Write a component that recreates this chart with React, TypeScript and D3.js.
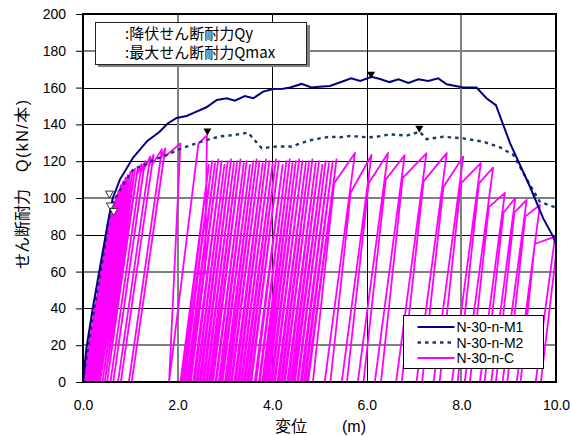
import React, { useEffect, useRef } from "react";
import * as d3 from "d3";

// monotonic loading, N-30-n-M1
const m1Disp = [0, 0.07, 0.2, 0.33, 0.46, 0.55, 0.63, 0.78, 1.06, 1.36, 1.62, 1.79, 1.98, 2.19, 2.4, 2.61, 2.83, 3.04, 3.21, 3.42, 3.6, 3.81, 4.02, 4.23, 4.38, 4.62, 4.83, 5.0, 5.22, 5.47, 5.67, 5.86, 6.1, 6.28, 6.48, 6.67, 6.88, 7.09, 7.3, 7.51, 7.69, 8.04, 8.32, 8.53, 8.73, 9.03, 9.45, 9.73, 9.94, 10.0];
const m1Load = [0, 18, 39, 58, 77, 90, 100, 110, 122, 131, 136, 140.5, 143.5, 144.6, 146.9, 149.3, 153.3, 154.2, 152.9, 155.4, 154.2, 157.8, 159.2, 159.4, 160.1, 162, 160.1, 160.5, 160.9, 163.2, 165, 163.6, 165.9, 164.7, 163, 164.5, 162.5, 164.5, 163.6, 165, 161.8, 160, 160, 154.2, 150.5, 129.7, 106.1, 88.9, 79, 75];

// monotonic loading, N-30-n-M2
const m2Disp = [0, 0.08, 0.2, 0.33, 0.45, 0.54, 0.65, 0.82, 1.07, 1.27, 1.49, 1.77, 2.05, 2.33, 2.61, 2.9, 3.18, 3.49, 3.78, 4.09, 4.41, 4.59, 4.83, 5.01, 5.22, 5.43, 5.64, 5.86, 6.03, 6.21, 6.49, 6.84, 7.12, 7.26, 7.62, 8.04, 8.46, 8.82, 9.1, 9.45, 9.66, 9.94, 10.0];
const m2Load = [0, 14, 34, 53, 72, 88, 98, 106, 116, 117.5, 120.7, 123.4, 126.6, 129.2, 131.5, 133.5, 134.2, 135.5, 127, 128, 128, 129.7, 131.5, 132.4, 133.3, 133, 133.7, 133.3, 133, 133.3, 134.6, 133.9, 136, 132, 133.3, 132.4, 130.6, 127.5, 123.4, 107, 98, 95.3, 95];

// cyclic loading N-30-n-C : first cycles along the skeleton  [disp, load]
const cycEarly: [number, number][] = [
  [0, 0], [0.1, 16], [0, 0], [0.15, 24], [0, 0], [0.2, 32], [0, 0], [0.25, 40],
  [0.01, 0], [0.3, 47], [0.01, 0], [0.35, 55], [0.02, 0], [0.4, 63], [0.03, 0], [0.45, 71],
  [0.04, 0], [0.5, 79], [0.05, 0], [0.55, 86], [0.06, 0], [0.6, 92], [0.08, 0], [0.65, 97],
  [0.1, 0], [0.7, 101], [0.13, 0], [0.75, 104], [0.16, 0], [0.8, 107], [0.2, 0], [0.85, 109],
  [0.24, 0], [0.9, 111], [0.28, 0], [0.95, 112.5], [0.32, 0], [1.0, 114], [0.36, 0], [1.05, 115],
  [0.41, 0], [1.1, 116], [0.46, 0], [1.16, 117],
];

// unload -> reload to knee -> new peak, up to Qmax
const cycMid: [number, number][] = [
  [0.51, 0], [1.13, 112], [1.24, 118.5],
  [0.58, 0], [1.21, 113], [1.31, 120],
  [0.64, 0], [1.28, 115], [1.42, 122.5],
  [0.74, 0], [1.39, 117], [1.49, 123.5],
  [0.8, 0], [1.46, 118], [1.67, 126.5],
  [0.97, 0], [1.64, 121], [1.74, 127],
  [1.03, 0], [1.71, 122], [2.06, 129.7],
  [1.82, 0], [2.44, 129.5], [2.62, 134],
  [2.58, 59], [2.37, 59],
];

// constant amplitude cycles: load from base, unload back near the same base
const denseBaseX = [2.06, 2.12, 2.19, 2.25, 2.33, 2.4, 2.46, 2.53, 2.6, 2.66, 2.72, 2.8, 2.87, 2.93, 3.0, 3.06, 3.13, 3.2, 3.27, 3.34, 3.4, 3.47, 3.54, 3.63, 3.72, 3.79, 3.84, 3.9, 3.97, 4.04, 4.11, 4.18, 4.25, 4.32, 4.39, 4.45, 4.53, 4.6, 4.67, 4.76];
const denseUnloadX = [2.09, 2.15, 2.22, 2.28, 2.36, 2.42, 2.49, 2.56, 2.62, 2.69, 2.75, 2.82, 2.9, 2.95, 3.03, 3.09, 3.15, 3.23, 3.3, 3.36, 3.43, 3.5, 3.56, 3.66, 3.74, 3.82, 3.87, 3.93, 4.0, 4.06, 4.14, 4.21, 4.27, 4.35, 4.42, 4.48, 4.55, 4.63, 4.7, 4.74];
const densePeakX = [2.66, 2.73, 2.79, 2.86, 2.93, 2.99, 3.06, 3.13, 3.19, 3.26, 3.33, 3.4, 3.46, 3.53, 3.6, 3.67, 3.73, 3.8, 3.87, 3.94, 4.01, 4.08, 4.14, 4.22, 4.3, 4.37, 4.43, 4.5, 4.57, 4.64, 4.71, 4.78, 4.85, 4.92, 4.99, 5.06, 5.13, 5.2, 5.28, 5.36];
const densePeakQ = [118, 120, 119, 121, 120, 118, 120, 121, 119, 120, 121, 119, 120, 118, 120, 121, 120, 119, 121, 120, 119, 121, 120, 118, 120, 121, 119, 120, 121, 120, 119, 120, 121, 119, 120, 118, 120, 119, 120, 121];

// late cycles: unload crossing, reload crossing, knee, peak
const lateUnloadX = [4.78, 5.11, 5.47, 5.81, 6.17, 6.62, 7.05, 7.41, 7.8, 8.07, 8.39, 8.63, 8.87, 9.17, 9.57];
const lateReloadX = [4.86, 5.23, 5.58, 5.93, 6.3, 6.74, 7.17, 7.54, 7.92, 8.18, 8.49, 8.73, 8.97, 9.25, 9.68];
const lateKneeX = [5.31, 5.66, 6.04, 6.4, 6.76, 7.2, 7.62, 7.99, 8.37, 8.58, 8.89, 9.12, 9.35, 9.55, 10.12];
const lateKneeQ = [108, 103, 108, 110, 111, 109, 106, 108, 108, 95, 92, 92, 90, 75, 95];
const latePeakX = [5.75, 6.1, 6.45, 6.8, 7.26, 7.69, 8.04, 8.41, 8.67, 8.92, 9.14, 9.38, 9.66, 9.98];
const latePeakQ = [124.5, 123.4, 124.5, 123.2, 124.3, 124.4, 122.5, 119, 116.5, 102.8, 100, 99, 96.2, 79];

// yield (open) and maximum (filled) shear markers
const qyDisp = [0.56, 0.58, 0.65];
const qyLoad = [102.5, 96, 93];
const qmaxDisp = [2.63, 6.09, 7.11];
const qmaxLoad = [136.5, 167.4, 138];

const xTicks = [0, 2, 4, 6, 8, 10];
const yTicks = [0, 20, 40, 60, 80, 100, 120, 140, 160, 180, 200];
const seriesNames = ["N-30-n-M1", "N-30-n-M2", "N-30-n-C"];
const noteLines = [":降伏せん断耐力Qy", ":最大せん断耐力Qmax"];

const FONT = "'Liberation Sans', Arial, 'Noto Sans CJK JP', sans-serif";
const JFONT = "'Noto Sans CJK JP', 'Liberation Sans', sans-serif";

function cyclicPoints(): [number, number][] {
  const pts: [number, number][] = [...cycEarly, ...cycMid];
  denseBaseX.forEach((b, i) => {
    // the run along Q = 0 between cycles is hidden under the x axis
    pts.push([b, 0], [densePeakX[i], densePeakQ[i]], [denseUnloadX[i], 0]);
  });
  lateUnloadX.forEach((u, i) => {
    pts.push([u, 0], [lateReloadX[i], 0], [lateKneeX[i], lateKneeQ[i]]);
    if (i < latePeakX.length) pts.push([latePeakX[i], latePeakQ[i]]);
  });
  return pts;
}

const App = () => {
  const svgRef = useRef<SVGSVGElement>(null);

  useEffect(() => {
    const w = 570;
    const h = 436;
    const svg = d3.select(svgRef.current).attr("width", w).attr("height", h).style("background", "#fff");
    svg.selectAll("*").remove();

    const xScale = d3.scaleLinear().domain([0, 10]).range([83, 556]);
    const yScale = d3.scaleLinear().domain([0, 200]).range([382, 14]);
    const [x0, x1] = xScale.range();
    const [y0, y1] = yScale.range();

    // grid (Excel rendering gives alternating crisp / soft lines)
    const softRows = [20, 60, 100, 180];
    const softCols = [2, 8];
    const grid = svg.append("g");
    yTicks.slice(1, -1).forEach((t) => {
      const soft = softRows.includes(t);
      const yy = Math.round(yScale(t)) + (soft ? 0 : 0.5);
      grid.append("line")
        .attr("x1", x0).attr("x2", x1).attr("y1", yy).attr("y2", yy)
        .attr("stroke", soft ? "#808080" : "#000")
        .attr("stroke-width", soft ? 2 : 1);
    });
    xTicks.slice(1, -1).forEach((t) => {
      const soft = softCols.includes(t);
      const xx = Math.round(xScale(t)) + (soft ? 0 : 0.5);
      grid.append("line")
        .attr("y1", y1).attr("y2", y0).attr("x1", xx).attr("x2", xx)
        .attr("stroke", soft ? "#808080" : "#000")
        .attr("stroke-width", soft ? 2 : 1);
    });

    svg.append("clipPath").attr("id", "plotClip")
      .append("rect").attr("x", x0).attr("y", y1).attr("width", x1 - x0).attr("height", y0 - y1 - 1);

    const line = d3.line<[number, number]>()
      .x((d) => xScale(d[0]))
      .y((d) => yScale(d[1]));

    const toPairs = (xs: number[], ys: number[]) => xs.map((x, i) => [x, ys[i]] as [number, number]);

    svg.append("path")
      .attr("d", line(cyclicPoints()))
      .attr("clip-path", "url(#plotClip)")
      .attr("fill", "none")
      .attr("stroke", "#ff00ff")
      .attr("stroke-width", 1.8)
      .attr("stroke-linejoin", "round");

    svg.append("path")
      .attr("d", line(toPairs(m2Disp, m2Load)))
      .attr("fill", "none")
      .attr("stroke", "#1a3d66")
      .attr("stroke-width", 2.4)
      .attr("stroke-dasharray", "3.5,4");

    svg.append("path")
      .attr("d", line(toPairs(m1Disp, m1Load)))
      .attr("fill", "none")
      .attr("stroke", "#000080")
      .attr("stroke-width", 2);

    const tri = d3.symbol().type(d3.symbolTriangle).size(28);
    svg.append("g").selectAll("path")
      .data(toPairs(qyDisp, qyLoad))
      .join("path")
      .attr("d", tri())
      .attr("transform", (d) => `translate(${xScale(d[0])},${yScale(d[1])}) rotate(180)`)
      .attr("fill", "#fff")
      .attr("stroke", "#333")
      .attr("stroke-width", 1);
    svg.append("g").selectAll("path")
      .data(toPairs(qmaxDisp, qmaxLoad))
      .join("path")
      .attr("d", tri())
      .attr("transform", (d) => `translate(${xScale(d[0])},${yScale(d[1])}) rotate(180)`)
      .attr("fill", "#000");

    // plot frame
    svg.append("rect")
      .attr("x", x0).attr("y", y1).attr("width", x1 - x0).attr("height", y0 - y1)
      .attr("fill", "none").attr("stroke", "#000").attr("stroke-width", 2);

    // axes
    const yAxis = svg.append("g").attr("transform", `translate(${x0},0)`)
      .call(d3.axisLeft(yScale).tickValues(yTicks).tickSize(7).tickPadding(10).tickFormat((d) => `${d}`));
    const xAxis = svg.append("g").attr("transform", `translate(0,${y0})`)
      .call(d3.axisBottom(xScale).tickValues(xTicks).tickSize(0).tickPadding(18).tickFormat(d3.format(".1f")));
    [yAxis, xAxis].forEach((g) => {
      g.select(".domain").remove();
      g.selectAll("line").attr("stroke", "#000");
      g.selectAll("text").attr("font-family", FONT).attr("font-size", 14).attr("fill", "#000");
    });

    // axis titles
    svg.append("text").attr("x", 291).attr("y", 432).attr("text-anchor", "middle")
      .attr("font-family", JFONT).attr("font-size", 16).text("変位");
    svg.append("text").attr("x", 342).attr("y", 432)
      .attr("font-family", FONT).attr("font-size", 16).text("(m)");
    svg.append("text").attr("transform", "translate(28,136) rotate(-90)").attr("text-anchor", "middle")
      .attr("font-family", FONT).attr("font-size", 16)
      .attr("textLength", 72).attr("lengthAdjust", "spacing").text("Q(kN/本)");
    svg.append("text").attr("transform", "translate(28,229) rotate(-90)").attr("text-anchor", "middle")
      .attr("font-family", JFONT).attr("font-size", 16).text("せん断耐力");

    // note box (marker explanation)
    svg.append("rect").attr("x", 98).attr("y", 25).attr("width", 212).attr("height", 42).attr("fill", "#808080");
    svg.append("rect").attr("x", 95.5).attr("y", 22.5).attr("width", 211).attr("height", 42)
      .attr("fill", "#fff").attr("stroke", "#222").attr("stroke-width", 1);
    noteLines.forEach((t, i) => {
      svg.append("text").attr("x", 125).attr("y", 38.5 + i * 19.5)
        .attr("font-family", JFONT).attr("font-size", 15).attr("fill", "#000").text(t);
    });

    // legend
    const lg = svg.append("g").attr("transform", "translate(403.5,315.5)");
    lg.append("rect").attr("width", 140).attr("height", 53).attr("fill", "#fff").attr("stroke", "#000").attr("stroke-width", 1);
    const legendStyle = [
      { color: "#000080", width: 2, dash: null },
      { color: "#1a3d66", width: 2.4, dash: "3.5,4" },
      { color: "#ff00ff", width: 2, dash: null },
    ];
    seriesNames.forEach((name, i) => {
      const yy = 11.5 + i * 15.5;
      lg.append("line").attr("x1", 14).attr("x2", 51).attr("y1", yy).attr("y2", yy)
        .attr("stroke", legendStyle[i].color).attr("stroke-width", legendStyle[i].width)
        .attr("stroke-dasharray", legendStyle[i].dash);
      lg.append("text").attr("x", 53).attr("y", yy).attr("dy", "0.36em")
        .attr("font-family", FONT).attr("font-size", 14).attr("fill", "#000").text(name);
    });
  }, []);

  return <svg ref={svgRef} style={{ position: "absolute", left: 0, top: 0, display: "block" }}></svg>;
};

export default App;
